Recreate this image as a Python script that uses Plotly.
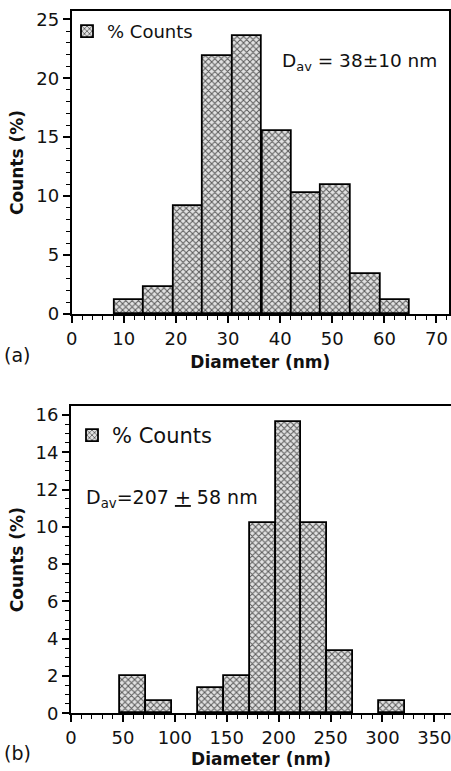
import plotly.graph_objects as go

# ---- data (a) ----
diam_a = [11.05, 16.7, 22.4, 28.05, 33.7, 39.4, 45.05, 50.7, 56.4, 62.05]
counts_a = [1.2, 2.3, 9.2, 21.9, 23.6, 15.5, 10.3, 10.95, 3.4, 1.2]
binw_a = 5.67

# ---- data (b) ----
diam_b = [59.5, 84.5, 134.5, 159.5, 184.5, 209.5, 234.5, 259.5, 309.5]
counts_b = [2.0, 0.67, 1.35, 2.0, 10.2, 15.6, 10.2, 3.35, 0.67]
binw_b = 25

W, H = 451, 771
FONT = "DejaVu Sans"

pattern = dict(shape="x", size=4.5, solidity=0.4, fgcolor="#5a5a5a", bgcolor="#e2e2e2")

fig = go.Figure()
fig.add_trace(go.Bar(x=diam_a, y=counts_a, width=binw_a, name="% Counts",
                     marker=dict(color="#e2e2e2", pattern=pattern,
                                 line=dict(color="black", width=1.8)),
                     xaxis="x", yaxis="y", legend="legend"))
fig.add_trace(go.Bar(x=diam_b, y=counts_b, width=binw_b, name="% Counts",
                     marker=dict(color="#e2e2e2", pattern=pattern,
                                 line=dict(color="black", width=1.8)),
                     xaxis="x2", yaxis="y2", legend="legend2"))


def px_dom(a, b, total, flip=False):
    if flip:
        return [1 - b / total, 1 - a / total]
    return [a / total, b / total]


axis_common = dict(showline=True, linecolor="black", linewidth=1.8, ticks="outside",
                   tickcolor="black", tickwidth=1.6, ticklen=7, showgrid=False,
                   zeroline=False, automargin=False, ticklabeloverflow="allow",
                   tickfont=dict(family=FONT, size=18, color="#111"))

fig.update_layout(
    template="none",
    width=W, height=H, margin=dict(l=0, r=0, t=0, b=0, pad=0),
    paper_bgcolor="white", plot_bgcolor="white",
    font=dict(family=FONT, color="#111"),
    bargap=0,
    xaxis=dict(domain=px_dom(71.7, 449, W), range=[0, 72.4], dtick=10, mirror=True,
               minor=dict(ticks="outside", dtick=2, ticklen=4, tickcolor="black", tickwidth=1.4),
               title=dict(text="<b>Diameter (nm)</b>", font=dict(family=FONT, size=17), standoff=9),
               anchor="y", **axis_common),
    yaxis=dict(domain=px_dom(11, 314, H, flip=True), range=[0, 25.7], dtick=5, mirror=True,
               minor=dict(ticks="outside", dtick=1, ticklen=4, tickcolor="black", tickwidth=1.4),
               title=dict(text="<b>Counts (%)</b>", font=dict(family=FONT, size=17), standoff=8),
               anchor="x", **axis_common),
    xaxis2=dict(domain=px_dom(71, 451, W), range=[0, 366], dtick=50, mirror=True,
                minor=dict(ticks="outside", dtick=10, ticklen=4, tickcolor="black", tickwidth=1.4),
                title=dict(text="<b>Diameter (nm)</b>", font=dict(family=FONT, size=17), standoff=6),
                anchor="y2", **axis_common),
    yaxis2=dict(domain=px_dom(406, 713.3, H, flip=True), range=[0, 16.48], dtick=2, mirror=False,
                minor=dict(ticks="outside", dtick=0.5, ticklen=4, tickcolor="black", tickwidth=1.4),
                title=dict(text="<b>Counts (%)</b>", font=dict(family=FONT, size=17), standoff=8),
                anchor="x2", **axis_common),
    legend=dict(x=67 / W, y=1 - 13 / H, xanchor="left", yanchor="top", bgcolor="rgba(0,0,0,0)",
                font=dict(family=FONT, size=18, color="#111")),
    legend2=dict(x=72 / W, y=1 - 415 / H, xanchor="left", yanchor="top", bgcolor="rgba(0,0,0,0)",
                 font=dict(family=FONT, size=21, color="#111")),
    showlegend=True,
)

fig.add_annotation(text="D<sub>av</sub> = 38±10 nm", xref="paper", yref="paper",
                   x=359 / W, y=1 - 62 / H, xanchor="center", yanchor="middle", showarrow=False,
                   font=dict(family=FONT, size=18.5, color="#111"))
fig.add_annotation(text="D<sub>av</sub>=207 <u>+</u> 58 nm", xref="paper", yref="paper",
                   x=84 / W, y=1 - 498 / H, xanchor="left", yanchor="middle", showarrow=False,
                   font=dict(family=FONT, size=19, color="#111"))
fig.add_annotation(text="(a)", xref="paper", yref="paper", x=2 / W, y=1 - 355 / H,
                   xanchor="left", yanchor="middle", showarrow=False,
                   font=dict(family=FONT, size=19, color="#111"))
fig.add_annotation(text="(b)", xref="paper", yref="paper", x=2 / W, y=1 - 753 / H,
                   xanchor="left", yanchor="middle", showarrow=False,
                   font=dict(family=FONT, size=19, color="#111"))

fig.write_html("out.html", config={"displayModeBar": False},
               post_script="document.body.style.margin='0';document.body.style.overflow='hidden';")
